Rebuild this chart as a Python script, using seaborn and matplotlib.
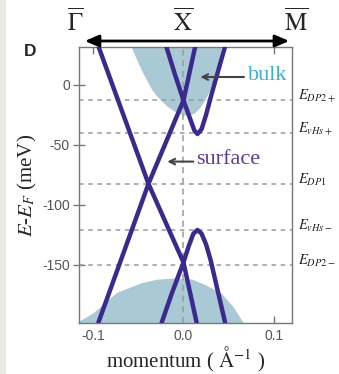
import numpy as np
import pandas as pd
import matplotlib
matplotlib.use("Agg")
import matplotlib.pyplot as plt
import seaborn as sns
from matplotlib.patches import Rectangle, FancyArrowPatch

# ---------------- data ----------------
# surface bands: momentum (1/Angstrom) and energy (meV)
bandA_k = [-0.094, -0.0387, 0.0, 0.0145]
bandA_E = [32, -82.5, -148, -198]
bandB_k = [0.013, 0.0, -0.0387, -0.094]
bandB_E = [32, -13, -82.5, -198]
bandC_k = [-0.024, -0.012, 0.0, 0.006, 0.011, 0.0155, 0.020, 0.025, 0.030, 0.046]
bandC_E = [-198, -172, -148, -134, -124, -121, -124, -133, -146, -198]
bandD_k = [-0.019, -0.010, 0.0, 0.0077, 0.012, 0.0155, 0.020, 0.025, 0.031, 0.046]
bandD_E = [32, 10, -13, -29, -38, -41, -37, -25, -8, 32]

# bulk continua boundaries
bulk_up_k = [-0.058, -0.054, -0.050, -0.045, -0.040, -0.035, -0.030, -0.024, -0.018,
             -0.010, 0.0, 0.006, 0.012, 0.018, 0.024, 0.028, 0.032, 0.036, 0.039, 0.042]
bulk_up_E = [32, 25, 18, 10, 3, -4, -9, -13.5, -18,
             -22, -25, -25.5, -23.5, -19, -12, -6, 3, 13, 22, 32]
bulk_lo_k = [-0.118, -0.1, -0.074, -0.047, -0.03, -0.011, 0.01, 0.025, 0.041, 0.055, 0.066]
bulk_lo_E = [-198, -190, -173, -165, -162, -161, -162, -167, -173, -185, -198]

# characteristic energies
level_names = [r"$E_{DP2+}$", r"$E_{vHs+}$", r"$E_{DP1}$", r"$E_{vHs-}$", r"$E_{DP2-}$"]
level_E = [-13, -40, -82.5, -121, -150]

x_ticks = [-0.1, 0.0, 0.1]
x_ticklabels = ["-0.1", "0.0", "0.1"]
y_ticks = [0, -50, -100, -150]
y_ticklabels = ["0", "-50", "-100", "-150"]
top_labels = [r"$\overline{\Gamma}$", r"$\overline{\mathrm{X}}$", r"$\overline{\mathrm{M}}$"]

# ---------------- figure ----------------
sns.set_style("ticks")
plt.rcParams["font.family"] = ["Liberation Sans", "DejaVu Sans"]
plt.rcParams["mathtext.fontset"] = "stix"

W, H = 339, 374
fig = plt.figure(figsize=(W / 100, H / 100), dpi=100)
fig.patch.set_facecolor("white")
ax = fig.add_axes([79 / W, 1 - 323 / H, (292 - 79) / W, (323 - 47) / H])

xlim = (-0.1155, 0.120)
ylim = (-198.5, 31.5)

band_col = "#3b2a8e"
bulk_col = "#a9cad4"
grid_col = "#9a9a9a"

# bulk shading
ax.fill_between(bulk_up_k, bulk_up_E, 40, color=bulk_col, lw=0, zorder=1)
ax.fill_between(bulk_lo_k, bulk_lo_E, -210, color=bulk_col, lw=0, zorder=1)

# dashed reference lines
for e in level_E:
    ax.axhline(e, color=grid_col, ls=(0, (3, 3)), lw=1.1, zorder=2)
ax.axvline(0.0, color=grid_col, ls=(0, (4, 3)), lw=1.1, zorder=2)

# bands via seaborn
rows = []
for name, ks, es in [("A", bandA_k, bandA_E), ("B", bandB_k, bandB_E),
                     ("C", bandC_k, bandC_E), ("D", bandD_k, bandD_E)]:
    for i, (k, e) in enumerate(zip(ks, es)):
        rows.append({"band": name, "order": i, "k": k, "E": e})
df = pd.DataFrame(rows)
sns.lineplot(data=df, x="k", y="E", hue="band", units="band", estimator=None,
             sort=False, palette=[band_col] * 4, lw=3.2, legend=False, ax=ax, zorder=3)

ax.set_xlim(*xlim)
ax.set_ylim(*ylim)
ax.set_xticks(x_ticks)
ax.set_xticklabels(x_ticklabels)
ax.set_yticks(y_ticks)
ax.set_yticklabels(y_ticklabels)
ax.tick_params(axis="x", direction="in", top=True, bottom=True, length=5, width=1,
               color="#777777", labelsize=10, labelcolor="#555555", pad=4)
ax.tick_params(axis="y", direction="inout", left=True, right=False, length=9, width=1,
               color="#777777", labelsize=10, labelcolor="#555555", pad=2)
for s in ax.spines.values():
    s.set_color("#777777")
    s.set_linewidth(1.0)
    s.set_visible(True)

ax.set_xlabel(r"momentum ( $\mathrm{\AA}^{-1}$ )", family="Liberation Serif",
              fontsize=15, labelpad=2)
ax.set_ylabel(r"$E$-$E_F$ (meV)", family="Liberation Serif", fontsize=15, labelpad=2)

# right side level labels
for name, e in zip(level_names, level_E):
    ax.text(1.03, e + 3, name, transform=ax.get_yaxis_transform(), fontsize=10.5,
            va="center", ha="left", color="#222222", clip_on=False)

# annotations
ax.annotate("", xy=(0.0155, 6.5), xytext=(0.070, 6.5),
            arrowprops=dict(arrowstyle="->", color="#444444", lw=1.5))
ax.text(0.071, 7.5, "bulk", color="#3ab2cf", family="Liberation Serif",
        fontsize=16, va="center", ha="left")
ax.annotate("", xy=(-0.021, -64), xytext=(0.014, -64),
            arrowprops=dict(arrowstyle="->", color="#444444", lw=1.5))
ax.text(0.0145, -62.5, "surface", color="#5e3b9c", family="Liberation Serif",
        fontsize=16, va="center", ha="left")

# top high-symmetry labels and arrow
fig.text(75 / W, 1 - 22 / H, top_labels[0], fontsize=18, ha="center", va="center")
fig.text(183 / W, 1 - 22 / H, top_labels[1], fontsize=18, ha="center", va="center")
fig.text(296 / W, 1 - 22 / H, top_labels[2], fontsize=18, ha="center", va="center")
fig.patches.append(FancyArrowPatch(
    (82 / W, 1 - 41 / H), (292 / W, 1 - 41 / H), transform=fig.transFigure,
    arrowstyle="<|-|>,head_length=0.7,head_width=0.3", color="black", lw=2,
    mutation_scale=12))

fig.text(30 / W, 1 - 52 / H, "D", fontsize=12.5, fontweight="bold", ha="center", va="center")

# left grey border strip
fig.patches.append(Rectangle((0, 0), 6 / W, 1, transform=fig.transFigure,
                             color="#ebe9e3", lw=0))

fig.savefig("out.png", dpi=100)
